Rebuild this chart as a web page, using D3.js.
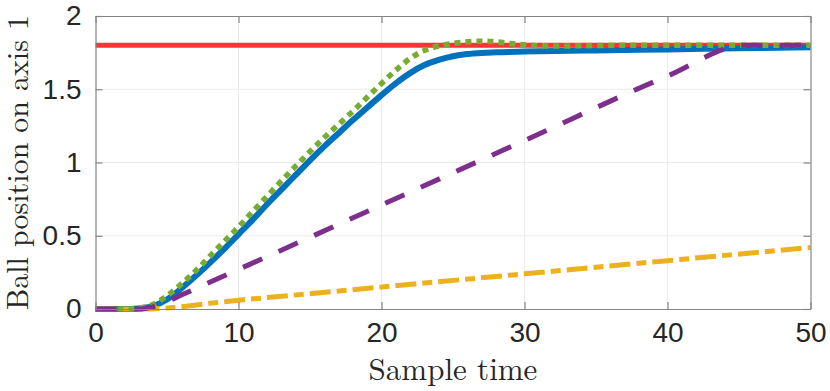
<!DOCTYPE html>
<html>
<head>
<meta charset="utf-8">
<script src="https://cdn.jsdelivr.net/npm/d3@7"></script>
<style>
  body { margin: 0; background: #fff; }
  svg { display: block; }
</style>
</head>
<body>
<svg id="chart" width="830" height="391"></svg>
<script>
// data
const reference = [[0, 1.8], [50, 1.8]];
const blueLine = [[0, 0], [2, 0], [3, 0.004], [4, 0.02], [5, 0.065], [6, 0.14], [7, 0.225], [8, 0.315], [9, 0.41],
  [10, 0.51], [11, 0.61], [12, 0.715], [13, 0.815], [14, 0.915], [15, 1.015], [16, 1.11], [17, 1.2], [18, 1.29],
  [19, 1.375], [20, 1.46], [21, 1.54], [22, 1.61], [23, 1.665], [24, 1.7], [25, 1.725], [26, 1.74], [27, 1.748],
  [28, 1.752], [30, 1.757], [35, 1.765], [40, 1.772], [45, 1.78], [50, 1.787]];
const greenLine = [[0, 0], [2, 0], [3, 0.006], [4, 0.03], [5, 0.09], [6, 0.17], [7, 0.26], [8, 0.36], [9, 0.46],
  [10, 0.56], [11, 0.665], [12, 0.77], [13, 0.875], [14, 0.975], [15, 1.075], [16, 1.17], [17, 1.26], [18, 1.35],
  [19, 1.445], [20, 1.54], [21, 1.63], [22, 1.71], [23, 1.765], [24, 1.795], [25, 1.812], [26, 1.824], [27, 1.828],
  [28, 1.824], [29, 1.813], [30, 1.803], [31, 1.797], [32, 1.795], [34, 1.797], [37, 1.8], [50, 1.8]];
const purpleLine = [[0, 0], [3, 0], [4, 0.015], [5, 0.05], [6, 0.095], [10, 0.27], [20, 0.71], [30, 1.15],
  [40, 1.59], [45.4, 1.8], [50, 1.8]];
const yellowLine = [[0, 0], [3.3, 0], [10, 0.06], [20, 0.15], [30, 0.24], [40, 0.33], [50, 0.42]];

const xTicks = [0, 10, 20, 30, 40, 50];
const yTicks = [0, 0.5, 1, 1.5, 2];
const yTickLabels = ["0", "0.5", "1", "1.5", "2"];

const margin = { top: 16, right: 20, bottom: 82, left: 95.5 };
const w = 810.5 - margin.left, h = 309 - margin.top;

const svg = d3.select("#chart");
const g = svg.append("g").attr("transform", `translate(${margin.left},${margin.top})`);

const x = d3.scaleLinear().domain([0, 50]).range([0, w]);
const y = d3.scaleLinear().domain([0, 2]).range([h, 0]);

// grid
g.append("g").selectAll("line").data(xTicks.slice(1, -1)).join("line")
  .attr("x1", d => x(d)).attr("x2", d => x(d)).attr("y1", 0).attr("y2", h)
  .attr("stroke", "#ebebeb").attr("stroke-width", 1);
g.append("g").selectAll("line").data(yTicks.slice(1, -1)).join("line")
  .attr("y1", d => y(d)).attr("y2", d => y(d)).attr("x1", 0).attr("x2", w)
  .attr("stroke", "#ebebeb").attr("stroke-width", 1);

const line = d3.line().x(d => x(d[0])).y(d => y(d[1])).curve(d3.curveMonotoneX);

const series = [
  { data: reference, color: "#ff3333", width: 5, dash: null },
  { data: blueLine, color: "#0072bd", width: 6, dash: null },
  { data: yellowLine, color: "#edb120", width: 5, dash: "21,6,10,6" },
  { data: greenLine, color: "#77ac30", width: 5.5, dash: "6,5" },
  { data: purpleLine, color: "#7e2f8e", width: 5, dash: "21,18" }
];

g.append("g").selectAll("path").data(series).join("path")
  .attr("d", d => line(d.data))
  .attr("fill", "none")
  .attr("stroke", d => d.color)
  .attr("stroke-width", d => d.width)
  .attr("stroke-dasharray", d => d.dash);

// axes (ticks inside, box on all sides)
const axisColor = "#858585";
const axBottom = g.append("g").attr("transform", `translate(0,${h})`)
  .call(d3.axisBottom(x).tickValues(xTicks).tickSize(-7).tickPadding(13).tickSizeOuter(0));
const axTop = g.append("g")
  .call(d3.axisTop(x).tickValues(xTicks).tickSize(-7).tickFormat("").tickSizeOuter(0));
const axLeft = g.append("g")
  .call(d3.axisLeft(y).tickValues(yTicks).tickSize(-7).tickPadding(14).tickSizeOuter(0)
    .tickFormat((d, i) => yTickLabels[i]));
const axRight = g.append("g").attr("transform", `translate(${w},0)`)
  .call(d3.axisRight(y).tickValues(yTicks).tickSize(-7).tickFormat("").tickSizeOuter(0));

[axBottom, axTop, axLeft, axRight].forEach(a => {
  a.select(".domain").attr("stroke", axisColor).attr("stroke-width", 1.2);
  a.selectAll(".tick line").attr("stroke", axisColor).attr("stroke-width", 1.2);
  a.selectAll(".tick text").attr("fill", "#262626")
    .style("font-family", "'Liberation Sans', Arial, sans-serif").style("font-size", "28px");
});

// axis titles
const serif = "'Latin Modern Roman', 'DejaVu Serif', serif";
svg.append("text")
  .attr("x", margin.left + w / 2).attr("y", 380)
  .attr("text-anchor", "middle")
  .style("font-family", serif)
  .style("font-size", "31px").attr("fill", "#262626")
  .text("Sample time");

svg.append("text")
  .attr("transform", `translate(28,${margin.top + h / 2}) rotate(-90)`)
  .attr("text-anchor", "middle")
  .style("font-family", serif)
  .style("font-size", "30px").attr("fill", "#262626")
  .text("Ball position on axis 1");
</script>
</body>
</html>
